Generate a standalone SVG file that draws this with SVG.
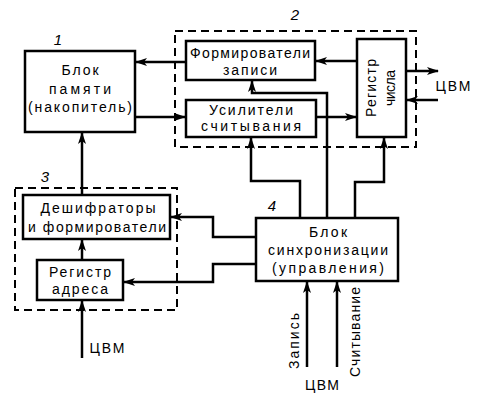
<svg xmlns="http://www.w3.org/2000/svg" width="480" height="400" viewBox="0 0 480 400">
<style>
.box{fill:#fff;stroke:#000;stroke-width:2.5}
.dash{fill:none;stroke:#000;stroke-width:2;stroke-dasharray:8,5}
.t{font-family:"Liberation Sans","DejaVu Sans",sans-serif;font-size:14px;fill:#000;text-anchor:middle}
.n{font-family:"Liberation Sans","DejaVu Sans",sans-serif;font-size:15px;font-style:italic;fill:#000;text-anchor:middle}
.c{fill:none;stroke:#000;stroke-width:2.5}
</style>
<defs>
<marker id="ar" markerUnits="userSpaceOnUse" markerWidth="12" markerHeight="8" refX="11" refY="4" orient="auto">
<path d="M0,0 L12,4 L0,8 L3,4 z" fill="#000"/>
</marker>
</defs>
<rect class="dash" x="175" y="31" width="241" height="116"/>
<rect class="dash" x="15" y="188" width="162" height="122"/>
<text class="n" x="58" y="45">1</text>
<text class="n" x="295" y="20">2</text>
<text class="n" x="45" y="182">3</text>
<text class="n" x="272" y="211">4</text>
<g id="block1">
<rect class="box" x="25" y="51" width="110" height="81"/>
<text class="t" x="80" y="75" textLength="37" lengthAdjust="spacing">Блок</text>
<text class="t" x="80" y="94" textLength="62" lengthAdjust="spacing">памяти</text>
<text class="t" x="80" y="112" textLength="104" lengthAdjust="spacing">(накопитель)</text>
</g>
<g id="form">
<rect class="box" x="186" y="41" width="129" height="39"/>
<text class="t" x="250" y="58" textLength="120" lengthAdjust="spacing">Формирователи</text>
<text class="t" x="250" y="75" textLength="54" lengthAdjust="spacing">записи</text>
</g>
<g id="usil">
<rect class="box" x="186" y="100" width="130" height="37"/>
<text class="t" x="251" y="115" textLength="84" lengthAdjust="spacing">Усилители</text>
<text class="t" x="251" y="131" textLength="100" lengthAdjust="spacing">считывания</text>
</g>
<g id="regch">
<rect class="box" x="357" y="39" width="49" height="98"/>
<text class="t" transform="translate(376,88) rotate(-90)" textLength="58" lengthAdjust="spacing">Регистр</text>
<text class="t" transform="translate(395,88) rotate(-90)" textLength="36" lengthAdjust="spacing">числа</text>
</g>
<g id="desh">
<rect class="box" x="23" y="195" width="147" height="44"/>
<text class="t" x="98" y="213" textLength="115" lengthAdjust="spacing">Дешифраторы</text>
<text class="t" x="97" y="232" textLength="138" lengthAdjust="spacing">и формирователи</text>
</g>
<g id="regadr">
<rect class="box" x="37" y="260" width="86" height="40"/>
<text class="t" x="80" y="277" textLength="62" lengthAdjust="spacing">Регистр</text>
<text class="t" x="80" y="294" textLength="56" lengthAdjust="spacing">адреса</text>
</g>
<g id="sync">
<rect class="box" x="256" y="218" width="142" height="63"/>
<text class="t" x="328" y="237" textLength="38" lengthAdjust="spacing">Блок</text>
<text class="t" x="328" y="255" textLength="120" lengthAdjust="spacing">синхронизации</text>
<text class="t" x="328" y="273" textLength="112" lengthAdjust="spacing">(управления)</text>
</g>
<g id="labels">
<text class="t" x="453" y="91" textLength="35" lengthAdjust="spacing">ЦВМ</text>
<text class="t" x="107" y="353" textLength="35" lengthAdjust="spacing">ЦВМ</text>
<text class="t" x="322" y="390" textLength="34" lengthAdjust="spacing">ЦВМ</text>
<text class="t" transform="translate(299,341) rotate(-90)" textLength="56" lengthAdjust="spacing">Запись</text>
<text class="t" transform="translate(360,332) rotate(-90)" textLength="90" lengthAdjust="spacing">Считывание</text>
</g>
<g id="connectors">
<path class="c" d="M186,62 H136" marker-end="url(#ar)"/>
<path class="c" d="M135,117 H185" marker-end="url(#ar)"/>
<path class="c" d="M357,61 H316" marker-end="url(#ar)"/>
<path class="c" d="M316,117 H356" marker-end="url(#ar)"/>
<path class="c" d="M406,71 H438" marker-end="url(#ar)"/>
<path class="c" d="M438,100 H407" marker-end="url(#ar)"/>
<path class="c" d="M327,218 V93 H252 V81" marker-end="url(#ar)"/>
<path class="c" d="M300,218 V181 H251 V138" marker-end="url(#ar)"/>
<path class="c" d="M355,218 V182 H384 V138" marker-end="url(#ar)"/>
<path class="c" d="M256,237 H213 V217 H171" marker-end="url(#ar)"/>
<path class="c" d="M256,264 H213 V282 H124" marker-end="url(#ar)"/>
<path class="c" d="M82,195 V133" marker-end="url(#ar)"/>
<path class="c" d="M82,260 V240" marker-end="url(#ar)"/>
<path class="c" d="M82,358 V301" marker-end="url(#ar)"/>
<path class="c" d="M307,367 V282" marker-end="url(#ar)"/>
<path class="c" d="M337,367 V282" marker-end="url(#ar)"/>
</g>
</svg>
